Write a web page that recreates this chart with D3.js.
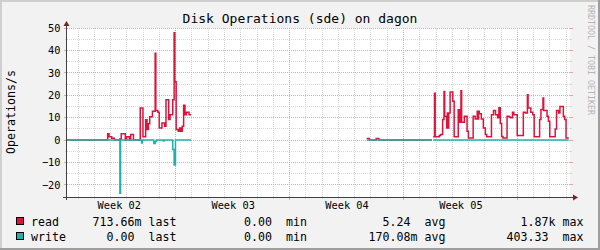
<!DOCTYPE html>
<html>
<head>
<meta charset="utf-8">
<script src="https://cdn.jsdelivr.net/npm/d3@7"></script>
<style>
  body { margin: 0; background: #fff; }
  text { font-family: 'DejaVu Sans Mono', monospace; }
</style>
</head>
<body>
<svg id="chart" width="600" height="250"></svg>
<script>
// time window of the graph (UTC)
const startTime = Date.UTC(2011, 0, 10, 7, 42);
const endTime = Date.UTC(2011, 1, 10, 5, 32);
const HOUR = 3600 * 1000;

const weekLabels = ['Week 02', 'Week 03', 'Week 04', 'Week 05'];
const yTicks = [-20, -10, 0, 10, 20, 30, 40, 50];
const yMinorTicks = [-15, -5, 5, 15, 25, 35, 45];

// read ops/s, step data: hours since start -> value
const readHours1 = [0, 60, 62, 66, 70, 78, 80, 86, 88, 92, 94, 98, 108, 112, 116, 118, 120, 122, 126, 130,
  131, 134, 136, 140, 144, 146, 150, 152, 156, 158, 159, 161, 164, 166, 168, 170, 172, 174, 176, 180, 183];
const readValues1 = [0, 2.75, 1.4, 0.8, 0, 0.5, 2.75, 0, 1.4, 0, 2.5, 0, 14.3, 1.4, 9.0, 4.7, 7.3, 10.4, 12.8, 38.7,
  13.2, 12.4, 5.4, 7.6, 6.1, 18, 9.1, 11.3, 18, 47.9, 26, 4.7, 3.9, 5.4, 3.9, 6.1, 15.5, 11.3, 12.4, 11.3, 11.3];
const readHours2 = [442, 446, 456, 460, 538];
const readValues2 = [0.7, 0, 0.7, 0, 0];
const readHours3 = [540, 542, 543, 549, 551, 554, 556, 557, 560, 561, 562, 563, 565, 569, 571, 577, 579, 581, 582, 586,
  590, 592, 599, 602, 605, 606, 607, 608, 611, 614, 617, 619, 626, 629, 632, 635, 637, 639, 641, 643,
  649, 652, 654, 657, 659, 664, 673, 676, 679, 680, 684, 687, 689, 697, 699, 702, 703, 708, 710, 712,
  720, 722, 725, 727, 732, 734, 736, 740];
const readValues3 = [1.4, 20.9, 1.4, 2.0, 2.4, 9.1, 21.7, 10.6, 5.4, 12.1, 5.4, 12.1, 21.4, 17.3, 1.4, 13.5, 7.9, 22, 7.9, 10.6,
  3.9, 0.9, 10.6, 9.4, 12.8, 9.4, 12.8, 11.7, 9.4, 5.4, 2.4, 1.4, 11.3, 13.2, 11.3, 9.9, 14.4, 7.4, 1.6, 0.9,
  10.6, 10.3, 9.9, 12.4, 11.3, 2.0, 12.4, 12.1, 20.2, 14.3, 12.4, 11.3, 1.4, 9.1, 13.6, 18.8, 13.2, 10.6, 8.4, 1.4,
  4.9, 13.2, 12.1, 15, 10.6, 9.1, 0.9, 0.9];

// write ops/s (drawn negative)
const writeHours1 = [0, 78, 79, 110, 111, 128, 130, 132, 142, 143, 156, 158, 160, 183];
const writeValues1 = [0, 23.8, 0, 1.3, 0, 1.6, 0.7, 0, 0.5, 0, 4.2, 11.2, 0, 0];
const writeHours2 = [442, 538];
const writeValues2 = [0, 0];
const writeHours3 = [540, 740];
const writeValues3 = [0, 0];

// legend
const legendNames = ['read', 'write'];
const legendColors = ['#dc143c', '#20b2aa'];
const statLabels = ['last', 'min', 'avg', 'max'];
const readStats = ['713.66m', '0.00', '5.24', '1.87k'];
const writeStats = ['0.00', '0.00', '170.08m', '403.33'];

const svg = d3.select('#chart');
const pLeft = 67, pRight = 570, pTop = 28, pBottom = 196;

const x = d3.scaleUtc().domain([startTime, endTime]).range([pLeft, pRight]);
const y = d3.scaleLinear().domain([-25, 50]).range([pBottom, pTop]);
const px = v => Math.floor(v) + 0.5;

// frame
svg.append('rect').attr('width', 600).attr('height', 250).attr('fill', '#f2f2f2');
svg.append('rect').attr('x', 0).attr('y', 0).attr('width', 600).attr('height', 2).attr('fill', '#cfcfcf');
svg.append('rect').attr('x', 0).attr('y', 0).attr('width', 2).attr('height', 250).attr('fill', '#cfcfcf');
svg.append('rect').attr('x', 0).attr('y', 248).attr('width', 600).attr('height', 2).attr('fill', '#9e9e9e');
svg.append('rect').attr('x', 598).attr('y', 0).attr('width', 2).attr('height', 250).attr('fill', '#9e9e9e');

svg.append('rect')
  .attr('x', pLeft).attr('y', pTop)
  .attr('width', pRight - pLeft).attr('height', pBottom - pTop + 1)
  .attr('fill', '#fff');

// grid
const grid = svg.append('g').attr('shape-rendering', 'crispEdges');
const mondays = d3.utcMonday.range(startTime, endTime);
const days = d3.utcDay.range(startTime, endTime).filter(d => d.getUTCDay() !== 1);

function vline(d, color, tick) {
  const xx = px(x(d));
  grid.append('line').attr('x1', xx).attr('x2', xx).attr('y1', pTop).attr('y2', pBottom + 1)
    .attr('stroke', color).attr('stroke-dasharray', '1,1');
  grid.append('line').attr('x1', xx).attr('x2', xx).attr('y1', pBottom + 1).attr('y2', pBottom + 1 + tick)
    .attr('stroke', color);
}
function hline(v, color, tick) {
  const yy = px(y(v));
  grid.append('line').attr('x1', pLeft).attr('x2', pRight).attr('y1', yy).attr('y2', yy)
    .attr('stroke', color).attr('stroke-dasharray', '1,1');
  grid.append('line').attr('x1', pLeft - tick).attr('x2', pLeft).attr('y1', yy).attr('y2', yy)
    .attr('stroke', color);
  grid.append('line').attr('x1', pRight).attr('x2', pRight + tick).attr('y1', yy).attr('y2', yy)
    .attr('stroke', color);
}
days.forEach(d => vline(d, '#d8d8d8', 2));
yMinorTicks.forEach(v => hline(v, '#d8d8d8', 2));
mondays.forEach(d => vline(d, '#f0a0a0', 3));
yTicks.forEach(v => hline(v, '#f0a0a0', 3));

// series
const line = d3.line()
  .x(d => x(d.t))
  .y(d => y(d.v))
  .curve(d3.curveStepAfter);

function series(hours, values, sign) {
  return hours.map((h, i) => ({ t: new Date(startTime + h * HOUR), v: sign * values[i] }));
}

const readSegs = [[readHours1, readValues1], [readHours2, readValues2], [readHours3, readValues3]];
const writeSegs = [[writeHours1, writeValues1], [writeHours2, writeValues2], [writeHours3, writeValues3]];

svg.append('g').selectAll('path')
  .data(readSegs.map(s => series(s[0], s[1], 1)))
  .join('path')
  .attr('d', line)
  .attr('fill', 'none')
  .attr('stroke', legendColors[0])
  .attr('stroke-width', 1.5);

svg.append('g').selectAll('path')
  .data(writeSegs.map(s => series(s[0], s[1], -1)))
  .join('path')
  .attr('d', line)
  .attr('fill', 'none')
  .attr('stroke', legendColors[1])
  .attr('stroke-width', 1.5);

// axes
const axisG = svg.append('g').attr('shape-rendering', 'crispEdges');
axisG.append('line').attr('x1', pLeft - 4).attr('x2', pRight + 5)
  .attr('y1', pBottom + 1.5).attr('y2', pBottom + 1.5).attr('stroke', '#404040');
axisG.append('line').attr('x1', pLeft - 0.5).attr('x2', pLeft - 0.5)
  .attr('y1', pBottom + 4).attr('y2', pTop - 3).attr('stroke', '#404040');
svg.append('path')
  .attr('d', `M${pRight + 8},${pBottom + 1.5} L${pRight + 3},${pBottom - 1.5} L${pRight + 3},${pBottom + 4.5} Z`)
  .attr('fill', '#7f1f1f');
svg.append('path')
  .attr('d', `M${pLeft - 0.5},${pTop - 7} L${pLeft - 3.5},${pTop - 2} L${pLeft + 2.5},${pTop - 2} Z`)
  .attr('fill', '#7f1f1f');

const labelDates = mondays.map(d => d3.utcHour.offset(d, -84))
  .filter(d => d >= startTime).slice(0, weekLabels.length);

const xAxis = svg.append('g')
  .attr('transform', `translate(0,${pBottom})`)
  .call(d3.axisBottom(x)
    .tickValues(labelDates)
    .tickFormat((d, i) => weekLabels[i])
    .tickSize(0)
    .tickPadding(6));
xAxis.select('.domain').remove();
xAxis.selectAll('text')
  .attr('font-family', 'DejaVu Sans Mono')
  .attr('font-size', '10.3px')
  .attr('fill', '#000');

const yAxis = svg.append('g')
  .attr('transform', `translate(${pLeft},0)`)
  .call(d3.axisLeft(y)
    .tickValues(yTicks)
    .tickSize(0)
    .tickPadding(6.5));
yAxis.select('.domain').remove();
yAxis.selectAll('text')
  .attr('font-family', 'DejaVu Sans Mono')
  .attr('font-size', '10.3px')
  .attr('fill', '#000');

// titles
svg.append('text')
  .attr('x', 300).attr('y', 23.3)
  .attr('text-anchor', 'middle')
  .attr('font-size', '13px')
  .text('Disk Operations (sde) on dagon');

svg.append('text')
  .attr('transform', `translate(15.2,${(pTop + pBottom) / 2}) rotate(-90)`)
  .attr('text-anchor', 'middle')
  .attr('font-size', '11.6px')
  .text('Operations/s');

svg.append('text')
  .attr('transform', 'translate(588,5) rotate(90)')
  .attr('font-size', '8.3px')
  .attr('fill', '#b4b4b4')
  .text('RRDTOOL / TOBI OETIKER');

// legend
const numEnds = [134.5, 272, 410.5, 548.5];
const labelStarts = [148.5, 286, 424.5, 562.5];
const rowBase = [226, 240.5];
const stats = [readStats, writeStats];

legendNames.forEach((name, r) => {
  const g = svg.append('g').attr('font-size', '11.6px');
  g.append('rect')
    .attr('x', 16.5).attr('y', rowBase[r] - 8.5)
    .attr('width', 7).attr('height', 7)
    .attr('fill', legendColors[r])
    .attr('stroke', '#000')
    .attr('shape-rendering', 'crispEdges');
  g.append('text').attr('x', 31).attr('y', rowBase[r]).text(name);
  stats[r].forEach((s, c) => {
    const m = s.match(/^([\d.]+)(\D?)$/);
    g.append('text').attr('x', numEnds[c]).attr('y', rowBase[r])
      .attr('text-anchor', 'end').text(m[1]);
    if (m[2]) g.append('text').attr('x', numEnds[c]).attr('y', rowBase[r]).text(m[2]);
    g.append('text').attr('x', labelStarts[c]).attr('y', rowBase[r]).text(statLabels[c]);
  });
});
</script>
</body>
</html>
